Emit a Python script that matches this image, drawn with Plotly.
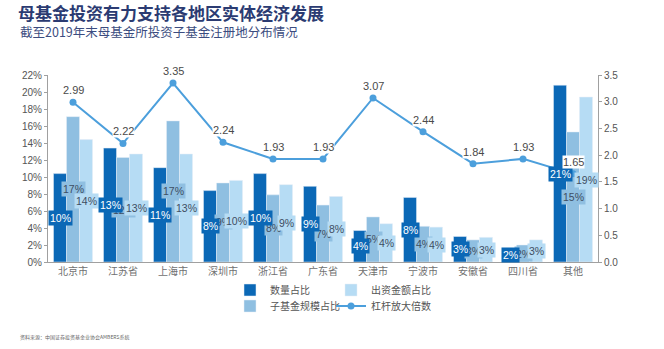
import plotly.graph_objects as go

# Registered location of sub-funds invested by mother funds (end of 2019)
regions = ["北京市", "江苏省", "上海市", "深圳市", "浙江省", "广东省",
           "天津市", "宁波市", "安徽省", "四川省", "其他"]
count_share = [10.4, 13.4, 11.1, 8.4, 10.4, 8.9, 3.7, 7.6, 3.0, 1.6, 20.8]      # 数量占比 (%)
size_share = [17.1, 12.3, 16.6, 9.3, 7.9, 6.7, 5.3, 4.2, 2.6, 2.0, 15.3]        # 子基金规模占比 (%)
amount_share = [14.4, 12.7, 12.7, 9.6, 9.1, 7.7, 4.5, 4.1, 2.9, 2.6, 19.4]      # 出资金额占比 (%)
leverage = [2.99, 2.22, 3.35, 2.24, 1.93, 1.93, 3.07, 2.44, 1.84, 1.93, 1.65]   # 杠杆放大倍数

C_DARK = "#0b68b6"
C_MID = "#8fbfe1"
C_LIGHT = "#b6dcf4"
C_LINE = "#4c9fdc"
FONT_LAT = "Liberation Sans, Arial, sans-serif"
FONT_CJK = "Noto Sans CJK SC"

BARGAP = 0.22
W = (1 - BARGAP) / 3

fig = go.Figure()
fig.add_trace(go.Bar(x=regions, y=count_share, name="数量占比", marker_color=C_DARK,
                     legend="legend", legendrank=1))
fig.add_trace(go.Bar(x=regions, y=size_share, name="子基金规模占比", marker_color=C_MID,
                     legend="legend2", legendrank=3))
fig.add_trace(go.Bar(x=regions, y=amount_share, name="出资金额占比", marker_color=C_LIGHT,
                     legend="legend", legendrank=2))
fig.add_trace(go.Scatter(x=regions, y=leverage, name="杠杆放大倍数", yaxis="y2",
                         mode="lines+markers", line=dict(color=C_LINE, width=2),
                         marker=dict(size=7, color=C_LINE),
                         legend="legend2", legendrank=4))

annotations = []
# value boxes at the middle of each bar (medium first, dark on top)
series = [(size_share, 0, C_MID, "#3e4e62"),
          (amount_share, 1, C_LIGHT, "#3e4e62"),
          (count_share, -1, C_DARK, "white")]
for vals, k, bg, fc in series:
    for i, v in enumerate(vals):
        annotations.append(dict(
            x=i + k * W, y=v / 2, xref="x", yref="y", text=f"{round(v)}%",
            showarrow=False, bgcolor=bg, borderpad=1,
            font=dict(family=FONT_LAT, size=10.5, color=fc)))

# leverage labels above the markers
for i, v in enumerate(leverage):
    annotations.append(dict(
        x=i, y=v, xref="x", yref="y2", text=f"{v:.2f}", showarrow=False,
        yshift=12, bgcolor="white", borderpad=0,
        font=dict(family=FONT_LAT, size=11, color="#4a4a4a")))

annotations.append(dict(
    x=-0.0545, y=1.235, xref="paper", yref="paper", xanchor="left", yanchor="middle",
    text="截至2019年末母基金所投资子基金注册地分布情况", showarrow=False,
    font=dict(family=FONT_CJK, size=12.5, color="#3b4c80")))
annotations.append(dict(
    x=-0.0545, y=-0.40, xref="paper", yref="paper", xanchor="left", yanchor="middle",
    text="资料来源：中国证券投资基金业协会AMBERS系统", showarrow=False,
    font=dict(family=FONT_CJK, size=5, color="#666666")))

legend_common = dict(orientation="h", xanchor="left", yanchor="middle",
                     font=dict(family=FONT_CJK, size=10, color="#555555"),
                     bgcolor="rgba(0,0,0,0)", itemwidth=30,
                     entrywidth=56, entrywidthmode="pixels", tracegroupgap=0)

fig.update_layout(
    width=664, height=349,
    margin=dict(l=48, r=66, t=75, b=87, autoexpand=False),
    paper_bgcolor="white", plot_bgcolor="white",
    barmode="group", bargap=BARGAP, bargroupgap=0,
    title=dict(text="<b>母基金投资有力支持各地区实体经济发展</b>",
               x=18 / 664, xanchor="left", y=1 - 14 / 349, yanchor="middle",
               font=dict(family=FONT_CJK, size=17, color="#2b3b72")),
    xaxis=dict(range=[-0.5, len(regions) - 0.5], showline=True, linecolor="#a0a0a0",
               linewidth=1, ticks="",
               tickfont=dict(family=FONT_CJK, size=10, color="#707070"),
               showgrid=False, automargin=False),
    yaxis=dict(range=[0, 22], dtick=2, ticksuffix="%", showgrid=False,
               showline=True, linecolor="#a0a0a0", linewidth=1,
               ticks="outside", ticklen=3, tickcolor="#a0a0a0",
               tickfont=dict(family=FONT_LAT, size=10, color="#555555"),
               zeroline=False, automargin=False),
    yaxis2=dict(range=[0, 3.5], dtick=0.5, tickformat=".1f", overlaying="y",
                side="right", showgrid=False, showline=True, linecolor="#a0a0a0",
                linewidth=1, ticks="outside", ticklen=3, tickcolor="#a0a0a0",
                tickfont=dict(family=FONT_LAT, size=10, color="#555555"),
                zeroline=False, automargin=False),
    legend=dict(x=(230 - 48) / 550, y=(262 - 290) / 187, **legend_common),
    legend2=dict(x=(230 - 48) / 550, y=(262 - 306) / 187, **legend_common),
    annotations=annotations,
    showlegend=True,
)

fig.write_html("out.html")
